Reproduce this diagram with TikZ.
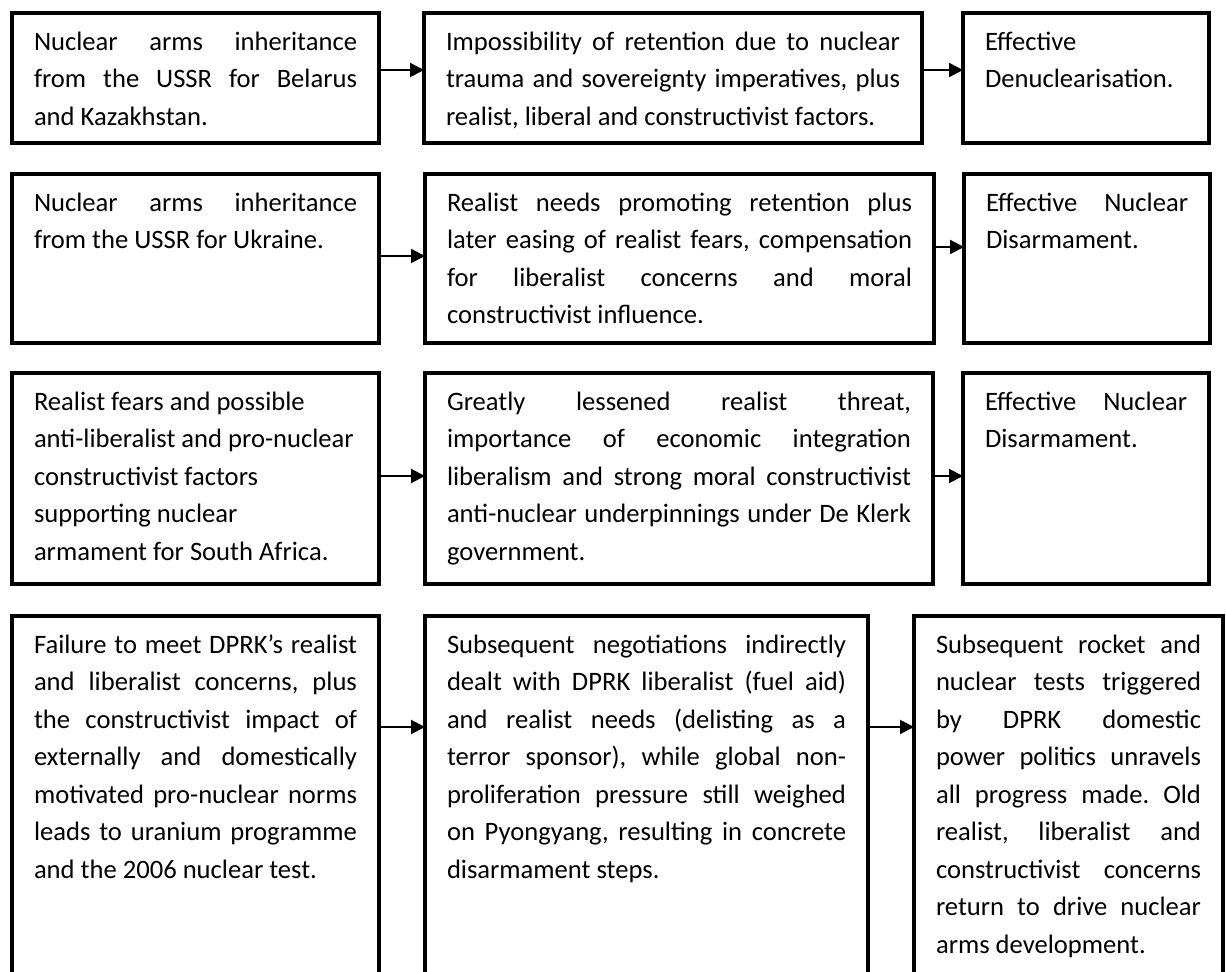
\documentclass[tikz,border=0pt]{standalone}
\usepackage{fontspec}
\setmainfont{Carlito}
\usetikzlibrary{arrows.meta,positioning}
\newcommand{\boxfont}{\fontsize{13.3pt}{18.75pt}\selectfont\frenchspacing\hyphenpenalty=10000\exhyphenpenalty=10000}
\begin{document}
\begin{tikzpicture}[x=0.5pt,y=-0.5pt,bx/.style={draw,line width=2.4pt,outer sep=0pt,inner xsep=11pt,inner ysep=4pt,text height=14.75pt,align=justify,font=\boxfont},arr/.style={-{Triangle[length=7pt,width=7pt]},line width=1pt},row1/.style={text depth=42.25pt},row2/.style={text depth=61.75pt},row3/.style={text depth=82.75pt},row4/.style={text depth=177.25pt}]
\useasboundingbox (0,0) rectangle (1226,972);
\clip (0,0) rectangle (1226,972);
% Belarus and Kazakhstan
\node[bx,row1,text width=161.5pt,anchor=north west] (s1) at (12,13) {Nuclear arms inheritance\linebreak from the USSR for Belarus\linebreak and Kazakhstan.};
\node[bx,row1,text width=227pt,right=22.5pt of s1] (m1) {Impossibility of retention due to nuclear\linebreak trauma and sovereignty imperatives, plus\linebreak realist, liberal and constructivist factors.};
\node[bx,row1,text width=101pt,right=20.5pt of m1] (r1) {Effective\\ Denuclearisation.};
\draw[arr] ([yshift=4pt]s1.east)--([yshift=4pt]m1.west);\draw[arr] ([yshift=4pt]m1.east)--([yshift=4pt]r1.west);
% Ukraine
\node[bx,row2,text width=161.5pt,anchor=north west] (s2) at (12,174) {Nuclear arms inheritance\linebreak from the USSR for Ukraine.};
\node[bx,row2,text width=232.5pt,right=23pt of s2] (m2) {Realist needs promoting retention plus\linebreak later easing of realist fears, compensation\linebreak for liberalist concerns and moral\linebreak constructivist influence.};
\node[bx,row2,text width=101pt,right=15pt of m2] (r2) {Effective Nuclear\linebreak Disarmament.};
\draw[arr] ([yshift=1.25pt]s2.east)--([yshift=1.25pt]m2.west);\draw[arr] ([yshift=5.75pt]m2.east)--([yshift=5.75pt]r2.west);
% South Africa
\node[bx,row3,text width=161.5pt,align=flush left,anchor=north west] (s3) at (12,373) {Realist fears and possible\\ \mbox{anti-liberalist and pro-nuclear}\\ constructivist factors\\ supporting nuclear\\ armament for South Africa.};
\node[bx,row3,text width=232pt,right=23pt of s3] (m3) {Greatly lessened realist threat,\linebreak importance of economic integration\linebreak liberalism and strong moral constructivist\linebreak anti-nuclear underpinnings under De Klerk\linebreak government.};
\node[bx,row3,text width=101pt,right=15pt of m3] (r3) {Effective Nuclear\linebreak Disarmament.};
\draw[arr] ([yshift=1.25pt]s3.east)--([yshift=1.25pt]m3.west);\draw[arr] ([yshift=1.25pt]m3.east)--([yshift=1.25pt]r3.west);
% DPRK
\node[bx,row4,text width=161.5pt,anchor=north west] (s4) at (12,616) {Failure to meet DPRK’s realist\linebreak and liberalist concerns, plus\linebreak the constructivist impact of\linebreak externally and domestically\linebreak motivated pro-nuclear norms\linebreak leads to uranium programme\linebreak and the 2006 nuclear test.};
\node[bx,row4,text width=199.5pt,right=23pt of s4] (m4) {Subsequent negotiations indirectly\linebreak dealt with DPRK liberalist (fuel aid)\linebreak and realist needs (delisting as a\linebreak terror sponsor), while global non-\linebreak proliferation pressure still weighed\linebreak on Pyongyang, resulting in concrete\linebreak disarmament steps.};
\node[bx,row4,text width=132.5pt,right=23pt of m4] (r4) {Subsequent rocket and\linebreak nuclear tests triggered\linebreak by DPRK domestic\linebreak power politics unravels\linebreak all progress made. Old\linebreak realist, liberalist and\linebreak constructivist concerns\linebreak return to drive nuclear\linebreak arms development.};
\draw[arr] ([yshift=44.5pt]s4.east)--([yshift=44.5pt]m4.west);\draw[arr] ([yshift=44.5pt]m4.east)--([yshift=44.5pt]r4.west);
\end{tikzpicture}
\end{document}
